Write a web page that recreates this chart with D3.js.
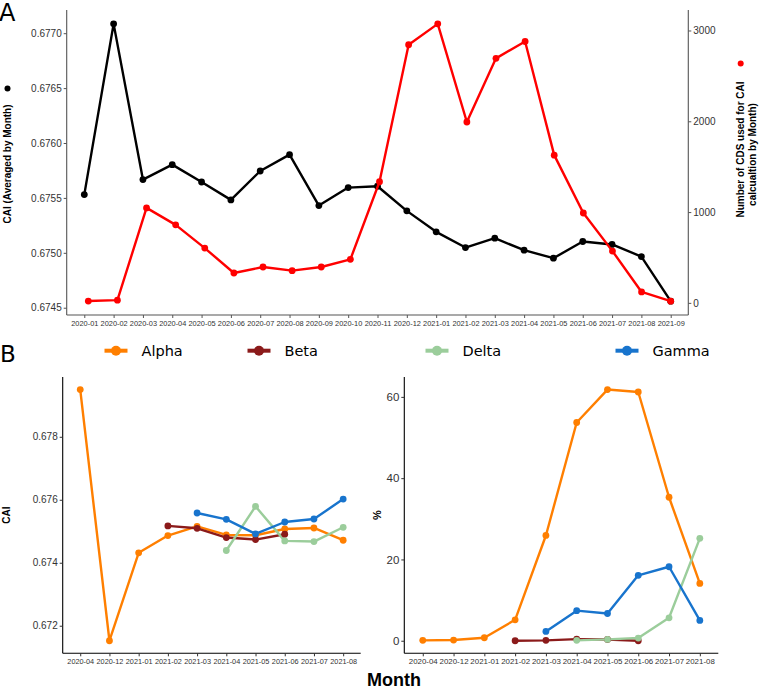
<!DOCTYPE html>
<html><head><meta charset="utf-8">
<script src="https://cdn.jsdelivr.net/npm/d3@7"></script>
<style>
html,body{margin:0;padding:0;background:#fff;}
svg{display:block;}
text{font-family:"Liberation Sans",Arial,sans-serif;}
</style></head>
<body>
<svg id="c" width="762" height="691"></svg>
<script>
// ---------- Panel A data ----------
const monthsA = ["2020-01","2020-02","2020-03","2020-04","2020-05","2020-06","2020-07","2020-08","2020-09","2020-10","2020-11","2020-12","2021-01","2021-02","2021-03","2021-04","2021-05","2021-06","2021-07","2021-08","2021-09"];
const caiA = [0.67553,0.677085,0.675667,0.675803,0.675645,0.675482,0.675745,0.675894,0.67543,0.675594,0.675606,0.675382,0.675191,0.675048,0.675133,0.675024,0.674951,0.675103,0.675076,0.674966,0.67456];
const cdsA = [20,30,1046,859,603,329,395,355,395,479,1334,2843,3073,1992,2693,2879,1627,990,570,120,19];
const ticksA_left = [0.6745,0.6750,0.6755,0.6760,0.6765,0.6770];
const ticksA_right = [0,1000,2000,3000];

// ---------- Panel B data ----------
const monthsB = ["2020-04","2020-12","2021-01","2021-02","2021-03","2021-04","2021-05","2021-06","2021-07","2021-08"];
const variants = ["Alpha","Beta","Delta","Gamma"];
const variantColors = ["#FF7F00","#8B1A1A","#9BCD9B","#1874CD"];
const caiAlpha = [0.6795,0.671523,0.674315,0.674863,0.675157,0.674883,0.674873,0.675073,0.675104,0.674715];
const caiBeta  = [null,null,null,0.675170,0.675094,0.674800,0.674736,0.674905,null,null];
const caiDelta = [null,null,null,null,null,0.674389,0.675790,0.674694,0.674673,0.675126];
const caiGamma = [null,null,null,null,0.675579,0.675379,0.674915,0.675294,0.675389,0.676021];
const pctAlpha = [0.1,0.17,0.74,5.15,25.9,53.7,61.8,61.2,35.3,14.1];
const pctBeta  = [null,null,null,0.0,0.1,0.4,0.3,0.0,null,null];
const pctDelta = [null,null,null,null,null,0.1,0.33,0.66,5.65,25.2];
const pctGamma = [null,null,null,null,2.3,7.4,6.7,16.1,18.2,5.0];
const ticksB_cai = [0.672,0.674,0.676,0.678];
const ticksB_pct = [0,20,40,60];

const svg = d3.select("#c");
const TXT = "#333";

function expand(vals, f=0.05){
  const e = d3.extent(vals.filter(v=>v!=null));
  const r = e[1]-e[0];
  return [e[0]-r*f, e[1]+r*f];
}

// ================= Panel A =================
const A = {l:66.7, r:688.3, t:10, b:315};
const xA = d3.scalePoint().domain(monthsA).range([A.l,A.r]).padding(0.6);
const xAred = d3.scalePoint().domain(monthsA).range([xA(monthsA[0])+4, xA(monthsA[monthsA.length-1])]).padding(0);
const yAl = d3.scaleLinear().domain(expand(caiA)).range([A.b,A.t]);
const yAr = d3.scaleLinear().domain(expand(cdsA)).range([A.b,A.t]);

const gA = svg.append("g");
const axL = gA.append("g").attr("transform",`translate(${A.l},0)`)
  .call(d3.axisLeft(yAl).tickValues(ticksA_left).tickFormat(d3.format(".4f")).tickSize(3).tickSizeOuter(0));
const axR = gA.append("g").attr("transform",`translate(${A.r},0)`)
  .call(d3.axisRight(yAr).tickValues(ticksA_right).tickFormat(d3.format("d")).tickSize(3).tickSizeOuter(0));
const axB = gA.append("g").attr("transform",`translate(0,${A.b})`)
  .call(d3.axisBottom(xA).tickSize(3).tickSizeOuter(0));
[axL,axR,axB].forEach(a=>{
  a.select(".domain").attr("stroke","#555").attr("stroke-width",1.1);
  a.selectAll(".tick line").attr("stroke","#555");
  a.selectAll("text").attr("fill",TXT).style("font-family","Liberation Sans, Arial, sans-serif");
});
axL.selectAll("text").attr("font-size",10).attr("x",-5);
axR.selectAll("text").attr("font-size",10).attr("x",5);
axB.selectAll("text").attr("font-size",7.4).attr("dy","0.75em").attr("y",5);
axB.select(".domain").attr("d",`M${A.l},0H${A.r}`);
axL.select(".domain").attr("d",`M0,${A.t}V${A.b}`);
axR.select(".domain").attr("d",`M0,${A.t}V${A.b}`);

const lineBlack = d3.line().x((d,i)=>xA(monthsA[i])).y(d=>yAl(d));
gA.append("path").datum(caiA).attr("d",lineBlack).attr("fill","none").attr("stroke","#000").attr("stroke-width",2.4).attr("stroke-linejoin","round");
gA.selectAll("circle.bk").data(caiA).join("circle").attr("class","bk")
  .attr("cx",(d,i)=>xA(monthsA[i])).attr("cy",d=>yAl(d)).attr("r",3.4).attr("fill","#000");
const lineRed = d3.line().x((d,i)=>xAred(monthsA[i])).y(d=>yAr(d));
gA.append("path").datum(cdsA).attr("d",lineRed).attr("fill","none").attr("stroke","#FF0000").attr("stroke-width",2.4).attr("stroke-linejoin","round");
gA.selectAll("circle.rd").data(cdsA).join("circle").attr("class","rd")
  .attr("cx",(d,i)=>xAred(monthsA[i])).attr("cy",d=>yAr(d)).attr("r",3.4).attr("fill","#FF0000");

gA.append("text").attr("transform","translate(11,164) rotate(-90)").attr("text-anchor","middle")
  .attr("font-size",10).attr("font-weight","bold").attr("fill","#000").text("CAI (Averaged by Month) ");
gA.append("circle").attr("cx",7.5).attr("cy",88.5).attr("r",3).attr("fill","#000");
gA.append("text").attr("transform","translate(744,149.5) rotate(-90)").attr("text-anchor","middle")
  .attr("font-size",10).attr("font-weight","bold").attr("fill","#000").text("Number of CDS used for CAI");
gA.append("circle").attr("cx",740.7).attr("cy",63.5).attr("r",3).attr("fill","#FF0000");
gA.append("text").attr("transform","translate(755.5,154.5) rotate(-90)").attr("text-anchor","middle")
  .attr("font-size",10).attr("font-weight","bold").attr("fill","#000").text("calcualtion by Month)");
svg.append("text").attr("x",-1).attr("y",21).attr("font-size",24).attr("fill","#000")
  .style("font-family","DejaVu Sans, sans-serif").text("A");
svg.append("text").attr("x",0).attr("y",362).attr("font-size",23).attr("fill","#000")
  .style("font-family","DejaVu Sans, sans-serif").text("B");

// ================= Legend =================
const legX = [116,259,437,627];
const legY = 350.7;
const gL = svg.append("g");
variants.forEach((v,i)=>{
  gL.append("line").attr("x1",legX[i]-11.5).attr("x2",legX[i]+11.5).attr("y1",legY).attr("y2",legY)
    .attr("stroke",variantColors[i]).attr("stroke-width",4);
  gL.append("circle").attr("cx",legX[i]).attr("cy",legY).attr("r",5).attr("fill",variantColors[i]);
  gL.append("text").attr("x",legX[i]+25.5).attr("y",356).attr("font-size",14.5).attr("fill","#000")
    .style("font-family","DejaVu Sans, sans-serif").text(v);
});

// ================= Panel B =================
function subplot(P, series, ticks, fmt, ytitle, ytx, fsY, fsX){
  const x = d3.scalePoint().domain(monthsB).range([P.l,P.r]).padding(0.6);
  const all = [].concat(...series);
  const y = d3.scaleLinear().domain(expand(all)).range([P.b,P.t]);
  const g = svg.append("g");
  const ax = g.append("g").attr("transform",`translate(${P.l},0)`)
    .call(d3.axisLeft(y).tickValues(ticks).tickFormat(fmt).tickSize(3).tickSizeOuter(0));
  const bx = g.append("g").attr("transform",`translate(0,${P.b})`)
    .call(d3.axisBottom(x).tickSize(3).tickSizeOuter(0));
  [ax,bx].forEach(a=>{
    a.select(".domain").attr("stroke","#000").attr("stroke-width",1.1);
    a.selectAll(".tick line").attr("stroke","#333");
    a.selectAll("text").attr("fill",TXT).style("font-family","Liberation Sans, Arial, sans-serif");
  });
  ax.select(".domain").attr("d",`M0,${P.t}V${P.b}`);
  bx.select(".domain").attr("d",`M${P.l},0H${P.r}`);
  ax.selectAll("text").attr("font-size",fsY).attr("x",-5);
  bx.selectAll("text").attr("font-size",fsX).attr("dy","0.75em").attr("y",5);
  const line = d3.line().defined(d=>d!=null).x((d,i)=>x(monthsB[i])).y(d=>y(d));
  series.forEach((s,k)=>{
    g.append("path").datum(s).attr("d",line).attr("fill","none").attr("stroke",variantColors[k])
      .attr("stroke-width",2.4).attr("stroke-linejoin","round");
  });
  series.forEach((s,k)=>{
    const pts = s.map((v,i)=>({v,i})).filter(d=>d.v!=null);
    g.selectAll(null).data(pts).join("circle").attr("cx",d=>x(monthsB[d.i])).attr("cy",d=>y(d.v))
      .attr("r",3.4).attr("fill",variantColors[k]);
  });
  g.append("text").attr("transform",`translate(${ytx},${(P.t+P.b)/2}) rotate(-90)`).attr("text-anchor","middle")
    .attr("font-size",ytitle==="%"?11:10).attr("font-weight","bold").attr("fill","#000").text(ytitle);
}
subplot({l:62.7,r:360.7,t:377,b:653.3},[caiAlpha,caiBeta,caiDelta,caiGamma],ticksB_cai,d3.format(".3f"),"CAI",10,10,7.3);
subplot({l:404.3,r:718.3,t:377,b:653.3},[pctAlpha,pctBeta,pctDelta,pctGamma],ticksB_pct,d3.format("d"),"%",381,11.5,7.9);

svg.append("text").attr("x",394).attr("y",686).attr("text-anchor","middle").attr("font-size",18)
  .attr("font-weight","bold").attr("fill","#000").text("Month");
</script>
</body></html>
